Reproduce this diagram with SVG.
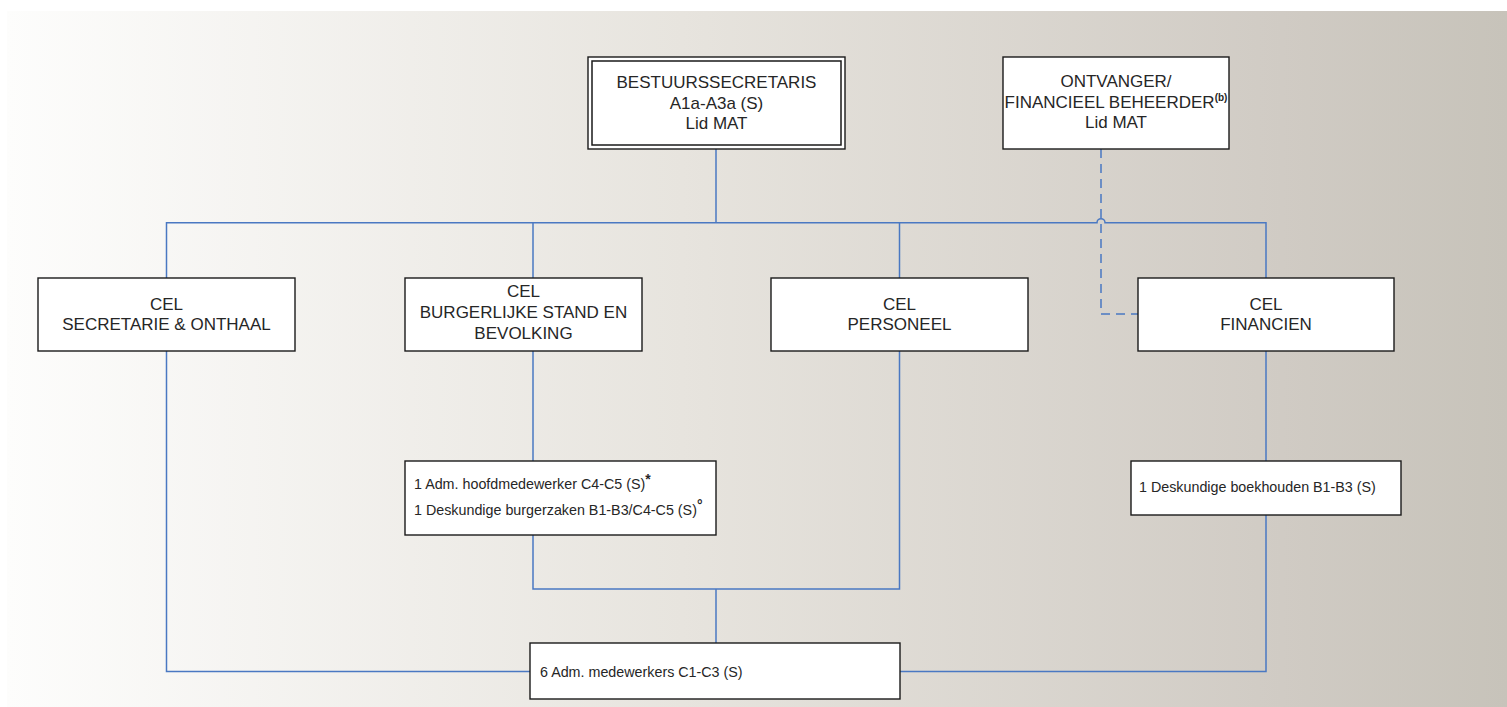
<svg xmlns="http://www.w3.org/2000/svg" width="1507" height="707" viewBox="0 0 1507 707">
<defs>
<linearGradient id="bg" x1="0" y1="0" x2="1" y2="0">
<stop offset="0" stop-color="#fdfdfc"/>
<stop offset="0.45" stop-color="#e7e4de"/>
<stop offset="0.85" stop-color="#d0cbc4"/>
<stop offset="1" stop-color="#c7c3ba"/>
</linearGradient>
</defs>
<style>
.box{fill:#fff;stroke:#1a1a1a;stroke-width:1.4}
.t{font-family:"Liberation Sans",Arial,sans-serif;font-size:17px;fill:#262626;text-anchor:middle}
.s{font-family:"Liberation Sans",Arial,sans-serif;font-size:14.3px;fill:#262626}
.sup{font-size:10px;font-weight:bold}
.ln{fill:none;stroke:#4a78c2;stroke-width:1.5}
.dash{fill:none;stroke:#4a78c2;stroke-width:1.5;stroke-dasharray:9 6}
</style>
<rect x="0" y="0" width="1507" height="707" fill="#fff"/>
<rect x="7" y="11" width="1500" height="696" fill="url(#bg)"/>

<g id="connectors">
<path class="ln" d="M716 149 V222.7"/>
<path class="ln" d="M166.5 278 V222.7 H1097 A4 4 0 0 1 1105 222.7 H1266 V278"/>
<path class="ln" d="M533 222.7 V278"/>
<path class="ln" d="M899.5 222.7 V278"/>
<path class="dash" d="M1101 149 V314 H1138"/>
<path class="ln" d="M533 351 V461"/>
<path class="ln" d="M533 535 V589 H899.5 V351"/>
<path class="ln" d="M716 589 V643"/>
<path class="ln" d="M166.5 351 V671.5 H530"/>
<path class="ln" d="M900 671.5 H1266 V515"/>
<path class="ln" d="M1266 351 V461"/>
</g>

<g id="bestuurssecretaris">
<rect class="box" x="588" y="57" width="257" height="92"/>
<rect x="592" y="61" width="249" height="84" fill="none" stroke="#1a1a1a" stroke-width="1.5"/>
<text class="t" x="716.5" y="88">BESTUURSSECRETARIS</text>
<text class="t" x="716.5" y="108.5">A1a-A3a (S)</text>
<text class="t" x="716.5" y="129">Lid MAT</text>
</g>

<g id="ontvanger">
<rect class="box" x="1003" y="57" width="226" height="92"/>
<text class="t" x="1116" y="87">ONTVANGER/</text>
<text class="t" x="1116" y="108">FINANCIEEL BEHEERDER<tspan class="sup" dy="-7">(b)</tspan></text>
<text class="t" x="1116" y="128">Lid MAT</text>
</g>

<g id="cel-secretarie">
<rect class="box" x="38" y="278" width="257" height="73"/>
<text class="t" x="166.5" y="309.5">CEL</text>
<text class="t" x="166.5" y="330">SECRETARIE &amp; ONTHAAL</text>
</g>

<g id="cel-burgerlijke">
<rect class="box" x="405" y="278" width="237" height="73"/>
<text class="t" x="523.5" y="296.5">CEL</text>
<text class="t" x="523.5" y="317.5">BURGERLIJKE STAND EN</text>
<text class="t" x="523.5" y="338.5">BEVOLKING</text>
</g>

<g id="cel-personeel">
<rect class="box" x="771" y="278" width="257" height="73"/>
<text class="t" x="899.5" y="309.5">CEL</text>
<text class="t" x="899.5" y="330">PERSONEEL</text>
</g>

<g id="cel-financien">
<rect class="box" x="1138" y="278" width="256" height="73"/>
<text class="t" x="1266" y="309.5">CEL</text>
<text class="t" x="1266" y="330">FINANCIEN</text>
</g>

<g id="burgerzaken-staff">
<rect class="box" x="405" y="461" width="311" height="74"/>
<text class="s" x="414" y="489">1 Adm. hoofdmedewerker C4-C5 (S)<tspan font-size="14" font-weight="bold" dy="-5">*</tspan></text>
<text class="s" x="414" y="515">1 Deskundige burgerzaken B1-B3/C4-C5 (S)<tspan font-size="14" font-weight="bold" dy="-5">°</tspan></text>
</g>

<g id="boekhouden">
<rect class="box" x="1131" y="461" width="270" height="54"/>
<text class="s" x="1139" y="492">1 Deskundige boekhouden B1-B3 (S)</text>
</g>

<g id="medewerkers">
<rect class="box" x="530" y="643" width="370" height="56"/>
<text class="s" x="540" y="677">6 Adm. medewerkers C1-C3 (S)</text>
</g>
</svg>
